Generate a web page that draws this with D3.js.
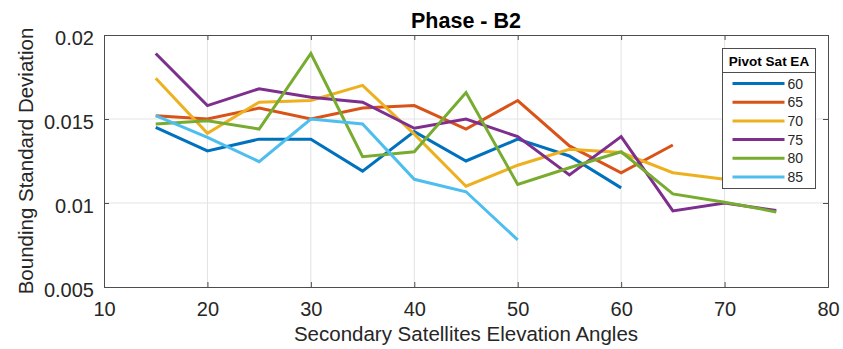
<!DOCTYPE html>
<html>
<head>
<meta charset="utf-8">
<script src="https://cdn.jsdelivr.net/npm/d3@7"></script>
<style>
  html, body { margin: 0; padding: 0; background: #fff; }
  svg { display: block; font-family: "Liberation Sans", Arial, sans-serif; }
</style>
</head>
<body>
<svg id="chart" width="843" height="349"></svg>
<script>
// Secondary satellite elevation angles (x) and bounding standard deviation per pivot EA
const angles = [15, 20, 25, 30, 35, 40, 45, 50, 55, 60, 65, 70, 75];
const pivotLabels = ["60", "65", "70", "75", "80", "85"];
const colors = ["#0072BD", "#D95319", "#EDB120", "#7E2F8E", "#77AC30", "#4DBEEE"];

const s60 = [0.0145, 0.0131, 0.0138, 0.0138, 0.0119, 0.01425, 0.0125, 0.0138, 0.0128, 0.0109];
const s65 = [0.0152, 0.0150, 0.01565, 0.0150, 0.01565, 0.0158, 0.0144, 0.0161, 0.0134, 0.0118, 0.01345];
const s70 = [0.01742, 0.01415, 0.0160, 0.0161, 0.0170, 0.0141, 0.0110, 0.01225, 0.0132, 0.0130, 0.0118, 0.01141];
const s75 = [0.0189, 0.0158, 0.0168, 0.0163, 0.0160, 0.01445, 0.0150, 0.01395, 0.01167, 0.01395, 0.00953, 0.0100, 0.00955];
const s80 = [0.0147, 0.0149, 0.0144, 0.0189, 0.01276, 0.01305, 0.01657, 0.0111, 0.0121, 0.01305, 0.01054, 0.01005, 0.00947];
const s85 = [0.0152, 0.0139, 0.01246, 0.0150, 0.0147, 0.01141, 0.01067, 0.0078];
const seriesValues = [s60, s65, s70, s75, s80, s85];

const xTicks = [10, 20, 30, 40, 50, 60, 70, 80];
const yTicks = [0.005, 0.01, 0.015, 0.02];
const yTickLabels = ["0.005", "0.01", "0.015", "0.02"];

const svg = d3.select("#chart");
const plot = { left: 104, right: 828, top: 35, bottom: 287 };

const x = d3.scaleLinear().domain([10, 80]).range([plot.left, plot.right]);
const y = d3.scaleLinear().domain([0.005, 0.02]).range([plot.bottom, plot.top]);

const textColor = "#262626";
const axisColor = "#4d4d4d";

// grid lines
const grid = svg.append("g");
grid.selectAll("line.gx").data(xTicks.slice(1, -1)).enter().append("line")
  .attr("x1", d => x(d)).attr("x2", d => x(d))
  .attr("y1", plot.top).attr("y2", plot.bottom)
  .attr("stroke", "#e3e3e3").attr("stroke-width", 1);
grid.selectAll("line.gy").data(yTicks.slice(1, -1)).enter().append("line")
  .attr("y1", d => y(d)).attr("y2", d => y(d))
  .attr("x1", plot.left).attr("x2", plot.right)
  .attr("stroke", "#e3e3e3").attr("stroke-width", 1);

// data lines
const line = d3.line()
  .x((d, i) => x(angles[i]))
  .y(d => y(d));

svg.append("g").selectAll("path").data(seriesValues).enter().append("path")
  .attr("d", d => line(d))
  .attr("fill", "none")
  .attr("stroke", (d, i) => colors[i])
  .attr("stroke-width", 3)
  .attr("stroke-linejoin", "miter")
  .attr("stroke-miterlimit", 4);

// axes (box with inward ticks on all sides)
const tickLen = 5;
const xAxisB = d3.axisBottom(x).tickValues(xTicks).tickSize(-tickLen).tickPadding(15).tickFormat(d3.format("d"));
const xAxisT = d3.axisTop(x).tickValues(xTicks).tickSize(-tickLen).tickFormat("");
const yAxisL = d3.axisLeft(y).tickValues(yTicks).tickSize(-tickLen).tickPadding(10)
  .tickFormat((d, i) => yTickLabels[i]);
const yAxisR = d3.axisRight(y).tickValues(yTicks).tickSize(-tickLen).tickFormat("");

function styleAxis(g) {
  g.select(".domain").attr("stroke", axisColor).attr("stroke-width", 1);
  g.selectAll(".tick line").attr("stroke", axisColor);
  g.selectAll(".tick text").attr("fill", textColor).attr("font-size", 20)
    .attr("font-family", "'Liberation Sans', Arial, sans-serif");
}

svg.append("g").attr("transform", `translate(0,${plot.bottom})`).call(xAxisB).call(styleAxis);
svg.append("g").attr("transform", `translate(0,${plot.top})`).call(xAxisT).call(styleAxis);
svg.append("g").attr("transform", `translate(${plot.left},0)`).call(yAxisL).call(styleAxis)
  .selectAll(".tick text").attr("dy", "0.48em");
svg.append("g").attr("transform", `translate(${plot.right},0)`).call(yAxisR).call(styleAxis);

// title
svg.append("text")
  .attr("x", (plot.left + plot.right) / 2).attr("y", 28)
  .attr("text-anchor", "middle")
  .attr("font-size", 21.5).attr("font-weight", "bold").attr("fill", "#000")
  .text("Phase - B2");

// axis titles
svg.append("text")
  .attr("x", (plot.left + plot.right) / 2).attr("y", 341)
  .attr("text-anchor", "middle")
  .attr("font-size", 20.5).attr("fill", textColor)
  .text("Secondary Satellites Elevation Angles");

svg.append("text")
  .attr("transform", `translate(33,${(plot.top + plot.bottom) / 2}) rotate(-90)`)
  .attr("text-anchor", "middle")
  .attr("font-size", 20.5).attr("fill", textColor)
  .text("Bounding Standard Deviation");

// legend
const lg = svg.append("g").attr("transform", "translate(722.5,48.5)");
const lgW = 93, lgH = 140, lgHead = 24;
lg.append("rect").attr("width", lgW).attr("height", lgH)
  .attr("fill", "#fff").attr("stroke", axisColor).attr("stroke-width", 1);
lg.append("line").attr("x1", 0).attr("x2", lgW).attr("y1", lgHead).attr("y2", lgHead)
  .attr("stroke", axisColor).attr("stroke-width", 1);
lg.append("text").attr("x", lgW / 2).attr("y", 17)
  .attr("text-anchor", "middle").attr("font-size", 13.5).attr("font-weight", "bold")
  .attr("fill", "#000").text("Pivot Sat EA");

const rowY = d3.scaleLinear().domain([0, 5]).range([35, 128.5]);
const items = lg.selectAll("g.item").data(pivotLabels).enter().append("g")
  .attr("transform", (d, i) => `translate(0,${rowY(i)})`);
items.append("line").attr("x1", 10).attr("x2", 62).attr("y1", 0).attr("y2", 0)
  .attr("stroke", (d, i) => colors[i]).attr("stroke-width", 3);
items.append("text").attr("x", 65).attr("y", 5)
  .attr("font-size", 14).attr("fill", textColor).text(d => d);
</script>
</body>
</html>
